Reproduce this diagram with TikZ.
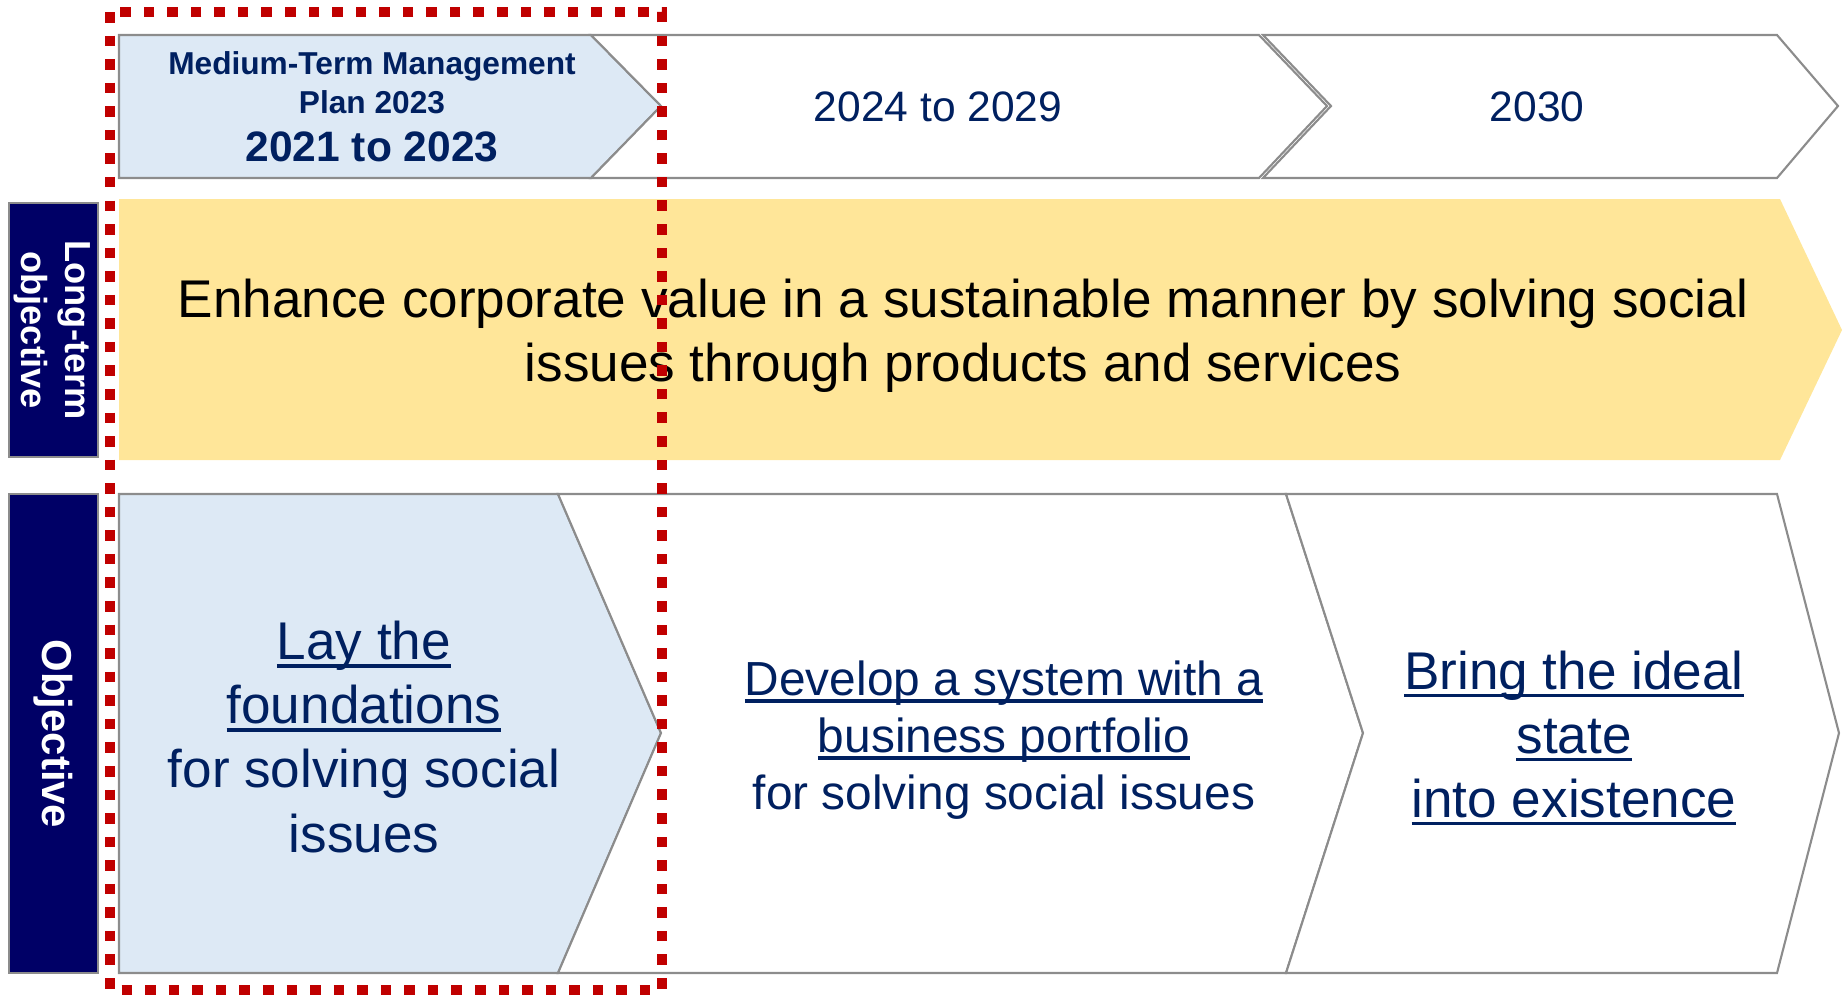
\documentclass[tikz,border=0pt]{standalone}
\usepackage{fontspec}
\setmainfont{Liberation Sans}
\definecolor{planblau}{HTML}{002060}
\definecolor{balken}{HTML}{000066}
\definecolor{hellblau}{HTML}{DDE9F5}
\definecolor{gold}{HTML}{FFE699}
\definecolor{planrot}{HTML}{C00000}
\definecolor{rand}{HTML}{8C8C8C}
\newcommand{\undl}[1]{\setbox0=\hbox{#1}\rlap{\rule[-0.15em]{\wd0}{0.07em}}\box0}

\begin{document}
\begin{tikzpicture}[
        x=0.01cm, y=-0.01cm,
        pfeil/.style={
            draw=rand,
            line width=0.6pt,
            fill=white
        },
        seite/.style={
            draw=rand,
            line width=0.6pt,
            fill=balken
        },
        seitentext/.style={
            text=white,
            align=center,
            rotate=-90
        },
        phase/.style={
            text=planblau,
            align=center,
            font=\fontsize{12.1}{14.5}\selectfont
        },
        ziel/.style={
            text=planblau,
            align=center,
            font=\fontsize{15.1}{18.2}\selectfont
        }
    ]
    \useasboundingbox (0,0) rectangle (1845,999);
    % Zeitachse
    \draw[pfeil, fill=hellblau] (119,35) -- (591,35) -- (661,106) -- (591,178) -- (119,178) -- cycle;
    \draw[pfeil] (591,35) -- (1259,35) -- (1327,106) -- (1259,178) -- (591,178) -- (661,106) -- cycle;
    \draw[pfeil] (1263,35) -- (1777,35) -- (1838,106) -- (1777,178) -- (1263,178) -- (1331,106) -- cycle;
    \node[phase, font=\fontsize{9}{11.1}\selectfont\bfseries] (plan) at (372,83)
        {Medium-Term Management\\Plan 2023};
    \node[phase, font=\fontsize{12.1}{14.5}\selectfont\bfseries] (jahre1) at (372,147) {2021 to 2023};
    \node[phase] (jahre2) at (938,107) {2024 to 2029};
    \node[phase] (jahre3) at (1537,107) {2030};
    % Langfristziel
    \draw[seite] (9,203) rectangle (98,457);
    \node[seitentext, font=\fontsize{10.3}{12.4}\selectfont\bfseries] (langlabel) at (52,330)
        {Long-term\\objective};
    \fill[gold] (119,199) -- (1780,199) -- (1842,330) -- (1780,460) -- (119,460) -- cycle;
    \node[align=center, font=\fontsize{15.1}{18.2}\selectfont] (langziel) at (963,336)
        {Enhance corporate value in a sustainable manner by solving social\\
         issues through products and services};
    % Ziele
    \draw[seite] (9,494) rectangle (98,973);
    \node[seitentext, font=\fontsize{11.9}{14}\selectfont\bfseries] (ziellabel) at (53,734) {Objective};
    \draw[pfeil, fill=hellblau] (119,494) -- (558,494) -- (661,733) -- (558,973) -- (119,973) -- cycle;
    \draw[pfeil] (558,494) -- (1286,494) -- (1363,733) -- (1286,973) -- (558,973) -- (661,733) -- cycle;
    \draw[pfeil] (1286,494) -- (1777,494) -- (1839,733) -- (1777,973) -- (1286,973) -- (1363,733) -- cycle;
    \node[ziel] (ziel1) at (364,737)
        {\undl{Lay the}\\
         \undl{foundations}\\
         for solving social\\
         issues};
    \node[ziel, font=\fontsize{13.6}{16.2}\selectfont] (ziel2) at (1004,740)
        {\undl{Develop a system with a}\\
         \undl{business portfolio}\\
         for solving social issues};
    \node[ziel] (ziel3) at (1574,738)
        {\undl{Bring the ideal}\\
         \undl{state}\\
         \undl{into existence}};
    % Rahmen Plan 2023
    \draw[planrot, line width=3.1pt, dash pattern=on 3pt off 3.7pt] (110,12) rectangle (662,990);
\end{tikzpicture}
\end{document}
